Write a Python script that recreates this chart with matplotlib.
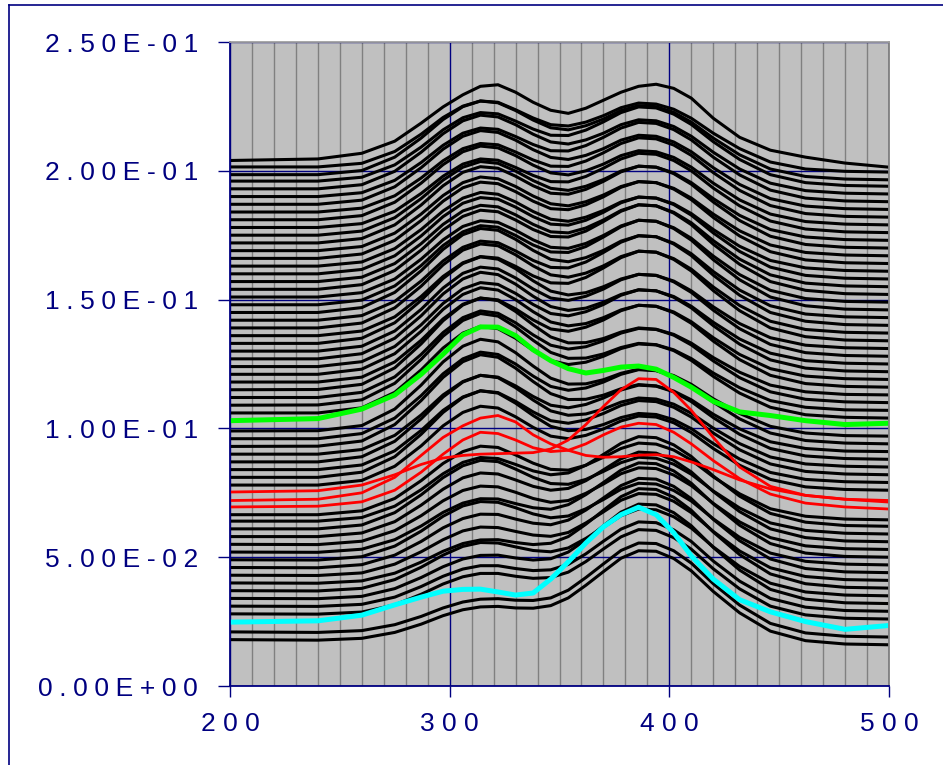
import numpy as np
import matplotlib
matplotlib.use('Agg')
import matplotlib.pyplot as plt
from matplotlib.lines import Line2D
from matplotlib.ticker import MultipleLocator

plt.rcParams['font.family'] = ['Liberation Sans', 'DejaVu Sans']

wavelength = [200, 240, 260, 275, 287, 297, 306, 314, 322, 330, 338, 346, 354,
              362, 370, 378, 386, 394, 402, 410, 420, 432, 446, 462, 480, 500]

# black spectra, values in units of 1e-3, bottom to top
black_spectra = [
    [18, 17.8, 18.5, 20.8, 24.0, 27.3, 29.6, 30.7, 30.9, 30.3, 30.2, 31.2, 34.2, 39.1, 44.4, 49.6, 52.5, 52.3, 49.5, 44.7, 36.7, 28.4, 21.3, 17.6, 16.3, 16],
    [21, 20.8, 21.5, 23.8, 27.0, 30.3, 32.6, 33.7, 33.9, 33.3, 33.2, 34.2, 37.2, 42.1, 47.4, 52.6, 55.5, 55.3, 52.5, 47.7, 39.7, 31.4, 24.3, 20.6, 19.3, 19],
    [28, 27.9, 28.7, 31.5, 35.6, 39.6, 42.4, 43.7, 43.7, 42.6, 41.8, 42.1, 44.2, 48.3, 53.2, 57.9, 60.7, 60.4, 57.6, 53.1, 45.5, 37.7, 31.0, 27.6, 26.3, 26],
    [31, 30.9, 31.7, 34.5, 38.6, 42.6, 45.4, 46.7, 46.7, 45.6, 44.8, 45.1, 47.2, 51.3, 56.2, 60.9, 63.7, 63.4, 60.6, 56.1, 48.5, 40.7, 34.0, 30.6, 29.3, 29],
    [34, 33.9, 34.8, 37.8, 42.1, 46.3, 49.3, 50.7, 50.8, 49.7, 48.9, 49.4, 52.0, 56.8, 62.2, 67.5, 70.6, 70.3, 67.3, 62.2, 53.8, 45.0, 37.5, 33.7, 32.3, 32],
    [37, 36.9, 37.9, 41.3, 46.1, 50.8, 54.2, 55.7, 55.5, 54.0, 52.6, 52.1, 53.6, 57.3, 61.6, 66.1, 68.7, 68.4, 65.7, 61.3, 54.0, 46.4, 39.9, 36.5, 35.3, 35],
    [40, 39.9, 40.8, 43.8, 48.1, 52.3, 55.3, 56.7, 56.8, 55.7, 54.9, 55.4, 58.0, 62.8, 68.2, 73.5, 76.6, 76.3, 73.3, 68.2, 59.8, 51.0, 43.5, 39.7, 38.3, 38],
    [43, 42.9, 43.9, 47.3, 52.1, 56.8, 60.2, 61.7, 61.5, 60.0, 58.6, 58.1, 59.6, 63.3, 67.6, 72.1, 74.7, 74.4, 71.7, 67.3, 60.0, 52.4, 45.9, 42.5, 41.3, 41],
    [46, 45.9, 47.1, 50.8, 56.1, 61.4, 65.0, 66.7, 66.6, 64.8, 63.2, 62.6, 64.4, 68.3, 73.0, 77.8, 80.6, 80.3, 77.5, 72.7, 64.7, 56.4, 49.3, 45.6, 44.3, 44],
    [49, 48.9, 50.2, 54.3, 60.1, 65.9, 69.9, 71.6, 71.3, 69.2, 66.8, 65.3, 66.0, 68.8, 72.4, 76.4, 78.7, 78.4, 75.9, 71.8, 64.9, 57.7, 51.6, 48.4, 47.3, 47],
    [52, 51.9, 53.1, 56.8, 62.1, 67.4, 71.0, 72.7, 72.6, 70.8, 69.2, 68.6, 70.4, 74.3, 79.0, 83.8, 86.6, 86.3, 83.5, 78.7, 70.7, 62.4, 55.3, 51.6, 50.3, 50],
    [55, 54.9, 56.2, 60.3, 66.1, 71.9, 75.9, 77.6, 77.3, 75.2, 72.8, 71.3, 72.0, 74.8, 78.4, 82.4, 84.7, 84.4, 81.9, 77.8, 70.9, 63.7, 57.6, 54.4, 53.3, 53],
    [58, 58.0, 59.4, 63.8, 70.2, 76.4, 80.8, 82.7, 82.3, 80.0, 77.5, 76.0, 76.7, 79.7, 83.9, 88.2, 90.8, 90.4, 87.6, 83.1, 75.5, 67.7, 61.0, 57.6, 56.3, 56],
    [61, 61.0, 62.5, 67.3, 74.2, 80.9, 85.5, 87.6, 87.1, 84.2, 81.0, 78.6, 78.3, 80.2, 83.3, 86.7, 88.8, 88.4, 86.1, 82.2, 75.7, 69.1, 63.3, 60.4, 59.3, 59],
    [64, 64.0, 65.4, 69.8, 76.2, 82.4, 86.8, 88.7, 88.3, 86.0, 83.5, 82.0, 82.7, 85.7, 89.9, 94.2, 96.8, 96.4, 93.6, 89.1, 81.5, 73.7, 67.0, 63.6, 62.3, 62],
    [66.5, 66.5, 68.0, 72.8, 79.7, 86.4, 91.0, 93.1, 92.6, 89.7, 86.5, 84.1, 83.8, 85.7, 88.8, 92.2, 94.3, 93.9, 91.6, 87.7, 81.2, 74.6, 68.8, 65.9, 64.8, 64.5],
    [78, 78.0, 79.8, 85.3, 93.2, 101.0, 106.2, 108.6, 107.9, 104.5, 100.4, 97.0, 96.0, 97.3, 99.8, 102.9, 104.8, 104.4, 102.2, 98.4, 92.2, 85.7, 80.2, 77.3, 76.3, 76],
    [81, 81.0, 83.0, 89.0, 97.7, 106.2, 112.0, 114.6, 113.7, 109.8, 105.0, 100.8, 99.1, 99.6, 101.5, 104.2, 105.8, 105.4, 103.4, 99.9, 94.1, 88.1, 82.9, 80.2, 79.3, 79],
    [84, 84.0, 85.8, 91.3, 99.2, 107.0, 112.2, 114.6, 113.9, 110.5, 106.4, 103.0, 102.0, 103.3, 105.8, 108.9, 110.8, 110.4, 108.2, 104.4, 98.2, 91.7, 86.2, 83.3, 82.3, 82],
    [87, 87.0, 89.0, 95.0, 103.7, 112.2, 118.0, 120.6, 119.7, 115.8, 111.0, 106.8, 105.1, 105.6, 107.5, 110.2, 111.8, 111.4, 109.4, 105.9, 100.1, 94.1, 88.9, 86.2, 85.3, 85],
    [90, 90.0, 91.8, 97.3, 105.2, 113.0, 118.2, 120.6, 119.9, 116.5, 112.4, 109.0, 108.0, 109.3, 111.8, 114.9, 116.8, 116.4, 114.2, 110.4, 104.2, 97.7, 92.2, 89.3, 88.3, 88],
    [93, 93.1, 95.1, 101.5, 110.8, 119.8, 125.9, 128.6, 127.6, 123.4, 118.2, 113.5, 111.2, 111.3, 112.9, 115.4, 117.0, 116.5, 114.5, 111.1, 105.5, 99.8, 94.8, 92.2, 91.2, 91],
    [96, 96.0, 98.0, 104.0, 112.7, 121.2, 127.0, 129.6, 128.7, 125.0, 120.3, 116.3, 114.8, 115.7, 118.0, 121.0, 122.8, 122.4, 120.2, 116.4, 110.2, 103.7, 98.2, 95.3, 94.3, 94],
    [99, 99.1, 101.1, 107.5, 116.8, 125.8, 131.9, 134.6, 133.6, 129.4, 124.2, 119.5, 117.2, 117.3, 118.9, 121.4, 123.0, 122.5, 120.5, 117.1, 111.5, 105.8, 100.8, 98.2, 97.2, 97],
    [106, 106.0, 108.0, 114.0, 122.7, 131.2, 137.0, 139.6, 138.7, 135.0, 130.3, 126.3, 124.8, 125.7, 128.0, 131.0, 132.8, 132.4, 130.2, 126.4, 120.2, 113.7, 108.2, 105.3, 104.3, 104],
    [109, 109.1, 111.1, 117.5, 126.8, 135.8, 141.9, 144.6, 143.6, 139.4, 134.2, 129.5, 127.2, 127.3, 128.9, 131.4, 133.0, 132.5, 130.5, 127.1, 121.5, 115.8, 110.8, 108.2, 107.2, 107],
    [112, 112.0, 114.0, 120.0, 128.7, 137.2, 143.0, 145.6, 144.7, 141.0, 136.3, 132.3, 130.8, 131.7, 134.0, 137.0, 138.8, 138.4, 136.2, 132.4, 126.2, 119.7, 114.2, 111.3, 110.3, 110],
    [115, 115.1, 117.1, 123.5, 132.8, 141.8, 147.9, 150.6, 149.6, 145.4, 140.2, 135.5, 133.2, 133.3, 134.9, 137.4, 139.0, 138.5, 136.5, 133.1, 127.5, 121.8, 116.8, 114.2, 113.2, 113],
    [118, 118.0, 119.9, 125.8, 134.2, 142.5, 148.2, 150.6, 149.9, 146.4, 142.1, 138.6, 137.7, 139.3, 142.1, 145.7, 147.8, 147.4, 144.9, 140.8, 133.9, 126.7, 120.6, 117.4, 116.3, 116],
    [121, 121.0, 123.0, 129.0, 137.7, 146.2, 152.0, 154.6, 153.7, 150.0, 145.3, 141.3, 139.8, 140.7, 143.0, 146.0, 147.8, 147.4, 145.2, 141.4, 135.2, 128.7, 123.2, 120.3, 119.3, 119],
    [124, 124.0, 125.9, 131.8, 140.2, 148.5, 154.2, 156.6, 155.9, 152.4, 148.1, 144.6, 143.7, 145.3, 148.1, 151.7, 153.8, 153.4, 150.9, 146.8, 139.9, 132.7, 126.6, 123.4, 122.3, 122],
    [127, 127.0, 129.0, 135.0, 143.7, 152.2, 158.0, 160.6, 159.7, 156.0, 151.3, 147.3, 145.8, 146.7, 149.0, 152.0, 153.8, 153.4, 151.2, 147.4, 141.2, 134.7, 129.2, 126.3, 125.3, 125],
    [130, 130.0, 131.9, 137.8, 146.2, 154.5, 160.2, 162.6, 161.9, 158.4, 154.1, 150.6, 149.7, 151.3, 154.1, 157.7, 159.8, 159.4, 156.9, 152.8, 145.9, 138.7, 132.6, 129.4, 128.3, 128],
    [133, 133.0, 135.0, 141.0, 149.7, 158.2, 164.0, 166.6, 165.7, 162.0, 157.3, 153.3, 151.8, 152.7, 155.0, 158.0, 159.8, 159.4, 157.2, 153.4, 147.2, 140.7, 135.2, 132.3, 131.3, 131],
    [136, 136.0, 137.8, 143.3, 151.2, 159.0, 164.3, 166.7, 166.1, 162.9, 159.2, 156.5, 156.3, 158.6, 162.3, 166.3, 168.8, 168.4, 165.6, 161.1, 153.5, 145.7, 139.0, 135.6, 134.3, 134],
    [139, 139.0, 140.9, 146.8, 155.2, 163.5, 169.2, 171.6, 170.9, 167.4, 163.1, 159.6, 158.7, 160.3, 163.1, 166.7, 168.8, 168.4, 165.9, 161.8, 154.9, 147.7, 141.6, 138.4, 137.3, 137],
    [142, 142.0, 143.8, 149.3, 157.2, 165.0, 170.3, 172.7, 172.1, 168.9, 165.2, 162.5, 162.3, 164.6, 168.3, 172.3, 174.8, 174.4, 171.6, 167.1, 159.5, 151.7, 145.0, 141.6, 140.3, 140],
    [145, 145.0, 146.9, 152.8, 161.2, 169.5, 175.2, 177.6, 176.9, 173.4, 169.1, 165.6, 164.7, 166.3, 169.1, 172.7, 174.8, 174.4, 171.9, 167.8, 160.9, 153.7, 147.6, 144.4, 143.3, 143],
    [148, 148.0, 149.8, 155.3, 163.2, 171.0, 176.3, 178.7, 178.1, 174.9, 171.2, 168.5, 168.3, 170.6, 174.3, 178.3, 180.8, 180.4, 177.6, 173.1, 165.5, 157.7, 151.0, 147.6, 146.3, 146],
    [151, 151.0, 152.7, 158.0, 165.7, 173.2, 178.4, 180.6, 180.0, 176.9, 173.2, 170.3, 169.9, 171.8, 174.9, 178.6, 180.8, 180.4, 177.9, 173.8, 166.9, 159.7, 153.6, 150.4, 149.3, 149],
    [154, 154.0, 155.8, 161.3, 169.2, 177.0, 182.3, 184.7, 184.1, 180.9, 177.2, 174.5, 174.3, 176.6, 180.3, 184.3, 186.8, 186.4, 183.6, 179.1, 171.5, 163.7, 157.0, 153.6, 152.3, 152],
    [157, 157.0, 158.7, 164.0, 171.7, 179.2, 184.4, 186.6, 186.0, 182.9, 179.2, 176.3, 175.9, 177.8, 180.9, 184.6, 186.8, 186.4, 183.9, 179.8, 172.9, 165.7, 159.6, 156.4, 155.3, 155],
    [160, 160.0, 161.7, 167.0, 174.7, 182.2, 187.4, 189.6, 189.0, 185.9, 182.2, 179.3, 178.9, 180.8, 183.9, 187.6, 189.8, 189.4, 186.9, 182.8, 175.9, 168.7, 162.6, 159.4, 158.3, 158],
    [163, 163.0, 164.6, 169.8, 177.2, 184.4, 189.4, 191.6, 190.9, 187.9, 184.2, 181.2, 180.4, 182.0, 184.6, 187.9, 189.8, 189.4, 187.2, 183.4, 177.2, 170.7, 165.2, 162.3, 161.3, 161],
    [166, 166.0, 167.7, 173.0, 180.7, 188.2, 193.4, 195.6, 195.0, 191.9, 188.2, 185.3, 184.9, 186.8, 189.9, 193.6, 195.8, 195.4, 192.9, 188.8, 181.9, 174.7, 168.6, 165.4, 164.3, 164],
    [169, 169.0, 170.6, 175.8, 183.2, 190.4, 195.4, 197.6, 196.9, 193.9, 190.2, 187.2, 186.4, 188.0, 190.6, 193.9, 195.8, 195.4, 193.2, 189.4, 183.2, 176.7, 171.2, 168.3, 167.3, 167],
    [172, 172.0, 173.7, 179.0, 186.7, 194.2, 199.4, 201.6, 201.0, 197.9, 194.2, 191.3, 190.9, 192.8, 195.9, 199.6, 201.8, 201.4, 198.9, 194.8, 187.9, 180.7, 174.6, 171.4, 170.3, 170],
    [175, 175.0, 176.6, 181.8, 189.2, 196.4, 201.4, 203.6, 202.9, 199.9, 196.2, 193.2, 192.4, 194.0, 196.6, 199.9, 201.8, 201.4, 199.2, 195.4, 189.2, 182.7, 177.2, 174.3, 173.3, 173],
    [178, 178.0, 179.5, 184.3, 191.2, 197.9, 202.6, 204.6, 204.1, 201.3, 198.2, 195.8, 195.7, 197.8, 201.0, 204.6, 206.8, 206.4, 204.0, 200.0, 193.3, 186.4, 180.5, 177.4, 176.3, 176],
    [181, 181.0, 182.6, 187.8, 195.2, 202.4, 207.4, 209.6, 208.9, 205.9, 202.2, 199.2, 198.4, 200.0, 202.6, 205.9, 207.8, 207.4, 205.2, 201.4, 195.2, 188.7, 183.2, 180.3, 179.3, 179],
    [184, 184.0, 185.5, 190.3, 197.2, 203.9, 208.6, 210.6, 210.1, 207.3, 204.2, 201.8, 201.7, 203.8, 207.0, 210.6, 212.8, 212.4, 210.0, 206.0, 199.3, 192.4, 186.5, 183.4, 182.3, 182],
    [187, 187.0, 188.6, 193.8, 201.2, 208.4, 213.4, 215.6, 214.9, 211.9, 208.2, 205.2, 204.4, 206.0, 208.6, 211.9, 213.8, 213.4, 211.2, 207.4, 201.2, 194.7, 189.2, 186.3, 185.3, 185],
    [190, 190.0, 191.5, 196.3, 203.2, 209.9, 214.6, 216.6, 216.1, 213.3, 210.2, 207.8, 207.7, 209.8, 213.0, 216.6, 218.8, 218.4, 216.0, 212.0, 205.3, 198.4, 192.5, 189.4, 188.3, 188],
    [193, 193.0, 194.6, 199.8, 207.2, 214.4, 219.4, 221.6, 220.9, 217.9, 214.2, 211.2, 210.4, 212.0, 214.6, 217.9, 219.8, 219.4, 217.2, 213.4, 207.2, 200.7, 195.2, 192.3, 191.3, 191],
    [196, 196.0, 197.5, 202.3, 209.2, 215.9, 220.6, 222.6, 222.1, 219.3, 216.2, 213.8, 213.7, 215.8, 219.0, 222.6, 224.8, 224.4, 222.0, 218.0, 211.3, 204.4, 198.5, 195.4, 194.3, 194],
    [198.5, 198.5, 200.1, 205.3, 212.7, 219.9, 224.9, 227.1, 226.4, 223.4, 219.7, 216.7, 215.9, 217.5, 220.1, 223.4, 225.3, 224.9, 222.7, 218.9, 212.7, 206.2, 200.7, 197.8, 196.8, 196.5],
    [201.5, 201.5, 202.9, 207.5, 214.2, 220.7, 225.1, 227.1, 226.6, 223.7, 220.5, 217.9, 217.4, 218.9, 221.4, 224.5, 226.3, 225.9, 223.9, 220.4, 214.6, 208.6, 203.4, 200.7, 199.8, 199.5],
    [204, 204.6, 206.8, 211.5, 218.5, 224.8, 229.5, 232.8, 233.4, 230.5, 226.6, 223.5, 222.3, 224.3, 227.4, 230.5, 232.8, 233.6, 232.0, 228.2, 220.4, 213.0, 208.0, 205.3, 203.0, 201.4],
]

# highlighted spectra (1e-3 units)
red_spectra = [
    [69.5, 69.8, 71.5, 76.0, 83.0, 90.0, 95.5, 98.5, 98.0, 95.5, 92.5, 91.0, 91.5, 94.0, 97.5, 100.5, 102.0, 101.5, 98.5, 94.0, 87.5, 80.5, 74.5, 71.0, 69.5, 68.7],
    [72.0, 72.5, 75.0, 81.0, 89.5, 96.5, 101.0, 104.0, 105.0, 102.5, 97.5, 94.0, 91.5, 89.5, 88.8, 89.0, 89.6, 89.8, 89.0, 87.0, 84.0, 80.0, 76.5, 74.0, 72.5, 71.4],
    [75.3, 75.8, 78.0, 82.0, 86.0, 88.5, 89.5, 90.0, 90.2, 90.4, 90.6, 92.0, 95.5, 101.5, 108.5, 115.0, 119.3, 119.0, 114.0, 107.0, 96.5, 85.0, 77.5, 74.0, 72.5, 72.0],
]
green_spectrum = [103.0, 103.8, 107.5, 113.0, 121.0, 128.8, 136.3, 139.4, 139.3, 136.0, 130.5, 126.3, 123.2,
                  121.5, 122.5, 123.8, 124.2, 123.0, 119.8, 116.0, 110.5, 106.4, 105.0, 103.0, 101.5, 102.0]
cyan_spectrum = [24.8, 25.3, 27.5, 31.5, 34.5, 36.8, 37.5, 37.6, 36.5, 35.3, 36.1, 41.5, 48.2,
                 55.5, 61.8, 66.5, 69.4, 66.5, 59.5, 50.5, 41.5, 33.5, 28.8, 25.0, 22.0, 23.5]

y_ticks = [0, 0.05, 0.10, 0.15, 0.20, 0.25]
y_labels = ['0.00E+00', '5.00E-02', '1.00E-01', '1.50E-01', '2.00E-01', '2.50E-01']
x_ticks = [200, 300, 400, 500]
x_labels = ['200', '300', '400', '500']

navy = '#000080'

fig = plt.figure(figsize=(9.43, 7.65), dpi=100)
ax = fig.add_axes([230 / 943, 79 / 765, 659 / 943, 644 / 765])
ax.set_facecolor('#C0C0C0')
ax.set_xlim(200, 500)
ax.set_ylim(0, 0.25)

x = np.array(wavelength)
for row in black_spectra:
    ax.plot(x, np.array(row) / 1000, color='black', lw=2.2, zorder=3,
            solid_joinstyle='round')
for row in red_spectra:
    ax.plot(x, np.array(row) / 1000, color='#FF0000', lw=2.0, zorder=4,
            solid_joinstyle='round')
ax.plot(x, np.array(green_spectrum) / 1000, color='#00FF00', lw=3.6, zorder=4)
ax.plot(x, np.array(cyan_spectrum) / 1000, color='#00FFFF', lw=3.6, zorder=4)

# grid: thin grey every 10 nm, navy on major ticks
ax.set_axisbelow(True)
ax.xaxis.set_minor_locator(MultipleLocator(10))
ax.grid(which='minor', axis='x', color='#808080', lw=1.0)
ax.grid(which='major', axis='both', color=navy, lw=1.0)
ax.tick_params(which='minor', length=0)

sp = '\u2005'
ax.set_yticks(y_ticks)
ax.set_yticklabels([sp.join(s) for s in y_labels])
ax.set_xticks(x_ticks)
ax.set_xticklabels([' '.join(s) for s in x_labels])
ax.tick_params(axis='y', direction='out', length=9, width=1, color=navy,
               pad=14, labelsize=19, labelcolor=navy)
ax.tick_params(axis='x', direction='out', length=8, width=1, color=navy,
               pad=11, labelsize=19, labelcolor=navy)

ax.spines['left'].set_color(navy)
ax.spines['bottom'].set_color(navy)
ax.spines['top'].set_color('#A0A0A0')
ax.spines['right'].set_color('#808080')
for s in ax.spines.values():
    s.set_linewidth(1.3)
    s.set_zorder(5)

# outer chart frame (partly cropped)
fig.add_artist(Line2D([9 / 943, 9 / 943], [0, 1 - 5 / 765], color=navy, lw=1.2))
fig.add_artist(Line2D([9 / 943, 1], [1 - 5 / 765, 1 - 5 / 765], color=navy, lw=1.2))

fig.savefig('out.png', dpi=100)
